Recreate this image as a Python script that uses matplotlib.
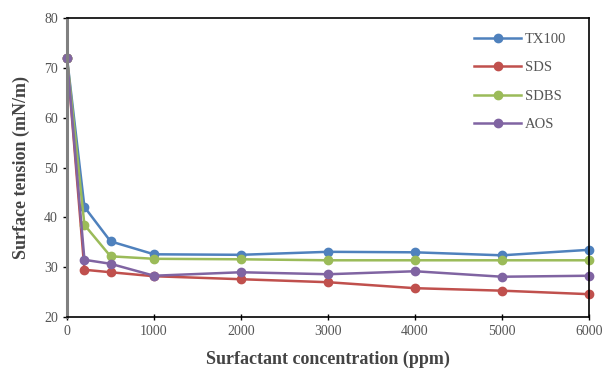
import numpy as np
import matplotlib.pyplot as plt

plt.rcParams['font.family'] = ['Liberation Serif', 'DejaVu Serif']

conc = [0, 200, 500, 1000, 2000, 3000, 4000, 5000, 6000]
tx100 = [72, 42.1, 35.2, 32.6, 32.5, 33.1, 33.0, 32.4, 33.5]
sds = [72, 29.5, 29.0, 28.2, 27.6, 27.0, 25.8, 25.3, 24.6]
sdbs = [72, 38.5, 32.2, 31.7, 31.6, 31.4, 31.4, 31.4, 31.4]
aos = [72, 31.5, 30.7, 28.3, 29.0, 28.6, 29.2, 28.1, 28.3]

fig = plt.figure(figsize=(6.06, 3.7), dpi=100)
ax = fig.add_axes([0.1106, 0.143, 0.8614, 0.808])

ax.plot(conc, tx100, color='#4F81BD', marker='o', ms=6, lw=1.8, label='TX100', clip_on=False)
ax.plot(conc, sds, color='#C0504D', marker='o', ms=6, lw=1.8, label='SDS', clip_on=False)
ax.plot(conc, sdbs, color='#9BBB59', marker='o', ms=6, lw=1.8, label='SDBS', clip_on=False)
ax.plot(conc, aos, color='#8064A2', marker='o', ms=6, lw=1.8, label='AOS', clip_on=False)

ax.set_xlim(0, 6000)
ax.set_ylim(20, 80)
ax.set_xticks(np.arange(0, 6001, 1000))
ax.set_yticks(np.arange(20, 81, 10))
ax.tick_params(labelsize=10, labelcolor='#555555', length=3, width=1)
ax.tick_params(axis='x', direction='inout', length=5)

for s in ['top', 'right', 'bottom']:
    ax.spines[s].set_color('black')
    ax.spines[s].set_linewidth(1.2)
ax.spines['left'].set_color('#808080')
ax.spines['left'].set_linewidth(2.2)

ax.set_xlabel('Surfactant concentration (ppm)', fontsize=13, fontweight='bold', color='#444444', labelpad=9)
ax.set_ylabel('Surface tension (mN/m)', fontsize=13, fontweight='bold', color='#444444', labelpad=10)

ax.legend(loc='upper right', frameon=False, fontsize=10.5, labelspacing=1.05,
          handlelength=3.2, handletextpad=0.3, borderaxespad=0.6,
          bbox_to_anchor=(0.985, 1.0), labelcolor='#555555')

fig.savefig('out.png', dpi=100)
